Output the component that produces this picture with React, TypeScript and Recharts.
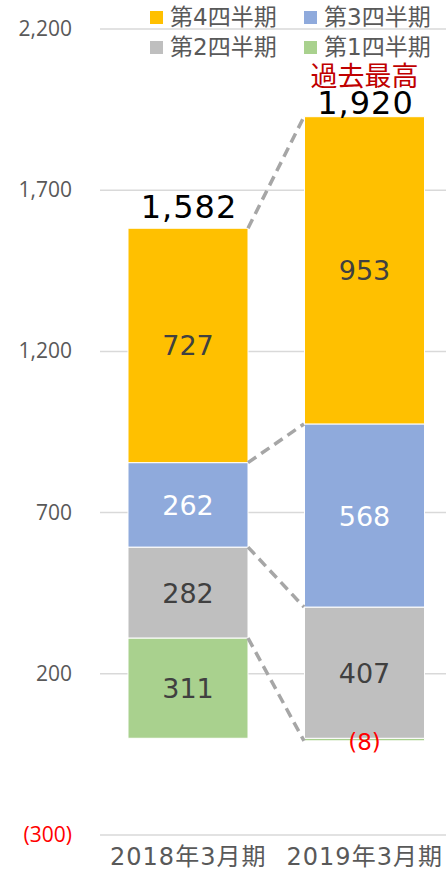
import { Bar, BarChart, CartesianGrid, LabelList, Rectangle, XAxis, YAxis } from "recharts";

const categories = ["2018年3月期", "2019年3月期"];
const q1 = [311, -8];
const q2 = [282, 407];
const q3 = [262, 568];
const q4 = [727, 953];
const totals = [1582, 1920];
const yTicks = [-300, 200, 700, 1200, 1700, 2200];
const recordLabel = "過去最高";

const seriesKeys = ["q1", "q2", "q3", "q4"];
const seriesNames = ["第1四半期", "第2四半期", "第3四半期", "第4四半期"];
const seriesColors = ["#A9D18E", "#BFBFBF", "#8FAADC", "#FFC000"];
const seriesValues = [q1, q2, q3, q4];
const labelColors = ["#404040", "#404040", "#FFFFFF", "#404040"];

const data = categories.map((name, i) => ({
    name,
    q1: q1[i],
    q2: q2[i],
    q3: q3[i],
    q4: q4[i],
}));

// edge of each stacked segment that the dashed series lines attach to
const segEdges = seriesValues.map((vals, s) =>
    vals.map((v, i) => {
        let pos = 0;
        let neg = 0;
        for (let k = 0; k <= s; k++) {
            const val = seriesValues[k][i];
            if (val >= 0) pos += val;
            else neg += val;
        }
        return v >= 0 ? pos : neg;
    })
);
const stackTop = categories.map((_, i) =>
    seriesValues.reduce((sum, vals) => sum + Math.max(vals[i], 0), 0)
);

const PLOT_LEFT = 100;
const NUM_FONT = "'DejaVu Sans', 'Noto Sans CJK JP', sans-serif";
const JP_FONT = "'DejaVu Sans', 'Noto Sans CJK JP', sans-serif";

function fmt(v: number) {
    return v < 0 ? `(${Math.abs(v).toLocaleString("en-US")})` : v.toLocaleString("en-US");
}

function YTick(props: any) {
    const { x, y, payload } = props;
    const v = payload.value;
    return (
        <text
            x={x}
            y={y + 7}
            textAnchor="end"
            fontFamily="'Open Sans', sans-serif"
            fontSize={21}
            fill={v < 0 ? "#FF0000" : "#595959"}
        >
            {fmt(v)}
        </text>
    );
}

function XTick(props: any) {
    const { x, y, payload } = props;
    return (
        <text
            x={x}
            y={y + 30}
            textAnchor="middle"
            fontFamily={JP_FONT}
            fontSize={24}
            letterSpacing={1}
            fill="#595959"
        >
            {payload.value}
        </text>
    );
}

function TopShape(props: any) {
    const { x, y, width, height, index, fill } = props;
    const rect = <Rectangle x={x} y={y} width={width} height={height} fill={fill} stroke="#fff" strokeWidth={1} />;
    if (index !== 0) return rect;
    const k = height / q4[0];
    const py = (v: number) => y + (stackTop[0] - v) * k;
    const band = 2 * (x + width / 2 - PLOT_LEFT);
    const x0 = x + width;
    const x1 = x + band;
    return (
        <g>
            {rect}
            {segEdges.map((edges, s) => (
                <line
                    key={s}
                    x1={x0}
                    y1={py(edges[0])}
                    x2={x1}
                    y2={py(edges[1])}
                    stroke="#A6A6A6"
                    strokeWidth={3.5}
                    strokeDasharray="10 6"
                />
            ))}
        </g>
    );
}

function makeSegLabel(color: string) {
    return function SegLabel(props: any) {
        const { x, y, width, height, value } = props;
        const cx = x + width / 2;
        const cy = y + height / 2;
        if (value < 0) {
            return (
                <text x={cx} y={cy + 10} textAnchor="middle" fontFamily={NUM_FONT} fontSize={23} fill="#FF0000">
                    {fmt(value)}
                </text>
            );
        }
        return (
            <text x={cx} y={cy + 10} textAnchor="middle" fontFamily={NUM_FONT} fontSize={27} fill={color}>
                {fmt(value)}
            </text>
        );
    };
}

function TotalLabel(props: any) {
    const { x, y, width, index } = props;
    const cx = x + width / 2;
    const base = index === 0 ? y - 10 : y - 3;
    const isRecord = totals[index] === Math.max(...totals);
    return (
        <g>
            <text x={cx + 1} y={base} textAnchor="middle" fontFamily={NUM_FONT} fontSize={32} letterSpacing={1} fill="#000">
                {totals[index].toLocaleString("en-US")}
            </text>
            {isRecord && (
                <text x={cx} y={base - 28} textAnchor="middle" fontFamily="'Noto Sans CJK JP', sans-serif" fontSize={27} fill="#C00000">
                    {recordLabel}
                </text>
            )}
        </g>
    );
}

const legendOrder = [3, 2, 1, 0];

export default function App() {
    return (
        <div style={{ position: "absolute", left: 0, top: 0, width: 446, height: 871, overflow: "hidden", background: "#fff" }}>
            <BarChart
                width={453}
                height={871}
                data={data}
                stackOffset="sign"
                margin={{ top: 29, right: 0, bottom: 0, left: 0 }}
            >
                <CartesianGrid vertical={false} stroke="#D9D9D9" strokeWidth={1.5} />
                <XAxis
                    dataKey="name"
                    axisLine={false}
                    tickLine={false}
                    tickSize={0}
                    tickMargin={0}
                    height={36}
                    interval={0}
                    tick={<XTick />}
                />
                <YAxis
                    type="number"
                    domain={[-300, 2200]}
                    ticks={yTicks}
                    interval={0}
                    axisLine={false}
                    tickLine={false}
                    tickSize={0}
                    tickMargin={28}
                    width={PLOT_LEFT}
                    tick={<YTick />}
                />
                {seriesKeys.map((key, s) => (
                    <Bar
                        key={key}
                        dataKey={key}
                        name={seriesNames[s]}
                        stackId="a"
                        fill={seriesColors[s]}
                        stroke="#fff"
                        strokeWidth={1}
                        barSize={120}
                        isAnimationActive={false}
                        shape={s === 3 ? <TopShape /> : undefined}
                    >
                        <LabelList dataKey={key} content={makeSegLabel(labelColors[s])} />
                        {s === 3 && <LabelList dataKey={key} content={TotalLabel} />}
                    </Bar>
                ))}
            </BarChart>
            <div
                style={{
                    position: "absolute",
                    left: 150,
                    top: 2,
                    width: 310,
                    display: "flex",
                    flexWrap: "wrap",
                    fontFamily: JP_FONT,
                    fontSize: 23,
                    color: "#595959",
                    lineHeight: "30px",
                }}
            >
                {legendOrder.map((s) => (
                    <div key={s} style={{ width: 154, display: "flex", alignItems: "center" }}>
                        <span style={{ display: "inline-block", width: 13, height: 13, background: seriesColors[s], marginRight: 7 }} />
                        <span>{seriesNames[s]}</span>
                    </div>
                ))}
            </div>
        </div>
    );
}
